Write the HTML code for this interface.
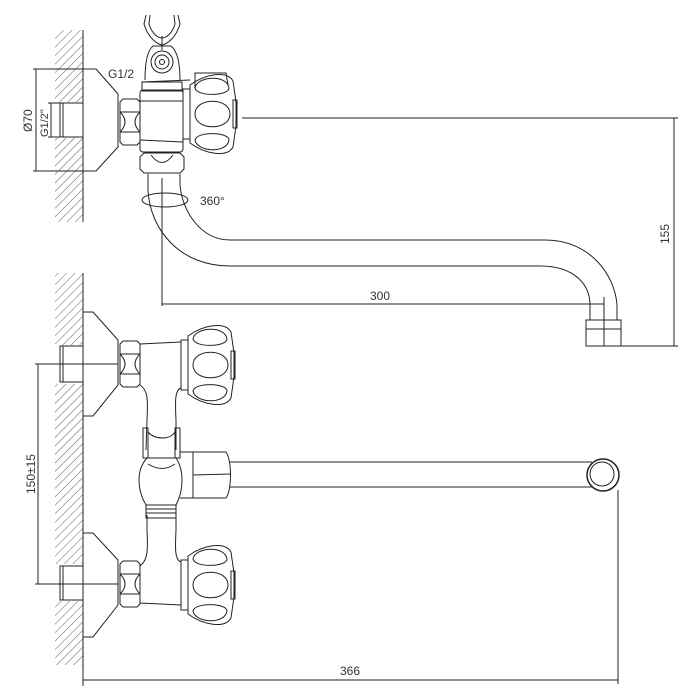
<!DOCTYPE html>
<html><head><style>html,body{margin:0;padding:0;background:#fff}svg{display:block}</style></head>
<body>
<svg width="700" height="700" viewBox="0 0 700 700" xmlns="http://www.w3.org/2000/svg" fill="none" stroke="#222" stroke-width="1">
<defs>
<pattern id="h" patternUnits="userSpaceOnUse" width="6" height="6" patternTransform="rotate(45)">
<line x1="0" y1="0" x2="0" y2="6" stroke="#333" stroke-width="0.8"/>
</pattern>
<g id="hd">
<rect x="0" y="-25" width="7" height="50"/>
<path d="M7,-29 C22,-40 44,-44 50,-33 L53,-12 L53,12 L50,33 C44,44 22,40 7,29 Z"/>
<path d="M12,-26 C14,-38 44,-40 46,-26 C46,-18 14,-17 12,-26 Z"/>
<path d="M12,0 C12,-17 47,-17 47,0 C47,17 12,17 12,0 Z"/>
<path d="M12,26 C14,38 44,40 46,26 C46,18 14,17 12,26 Z"/>
<rect x="50" y="-14" width="4" height="28"/>
</g>
<g id="nut">
<path d="M0,3 L3,0 L17,0 L20,3 L20,43 L17,46 L3,46 L0,43 Z"/>
<line x1="0" y1="13" x2="20" y2="13"/><line x1="0" y1="33" x2="20" y2="33"/>
<path d="M0,13 Q10,23 0,33"/><path d="M20,13 Q10,23 20,33"/>
</g>
</defs>

<!-- TOP VIEW -->
<rect x="55" y="30" width="28" height="72" fill="url(#h)" stroke="none"/>
<rect x="55" y="138" width="28" height="84" fill="url(#h)" stroke="none"/>
<line x1="83" y1="30" x2="83" y2="222"/>
<rect x="60" y="103" width="23" height="34"/>
<line x1="63" y1="103" x2="63" y2="137"/>
<path d="M83,69 L96,69 L118,94 L118,147 L96,171 L83,171"/>
<use href="#nut" x="120" y="99"/>
<rect x="140" y="90" width="43" height="62" rx="3"/>
<rect x="142" y="82" width="40" height="9"/>
<line x1="140" y1="101" x2="183" y2="101"/><line x1="140" y1="140" x2="183" y2="142"/>
<path d="M195,88 L195,73 L226,73 L228,85"/>
<use href="#hd" x="183" y="114"/>
<!-- holder -->
<path d="M145,80 C145,60 148,50 153,46 L171,46 C176,50 180,60 180,80"/>
<circle cx="162" cy="62" r="11"/><circle cx="162" cy="62" r="7"/><circle cx="162" cy="62" r="2.5"/>
<path d="M146,15 L144,24 C148,38 157,44 162,45 C167,44 176,38 180,24 L178,15"/>
<path d="M150,15 L149,24 C152,34 158,38 162,38 C166,38 172,34 175,24 L174,15"/>
<line x1="162" y1="36" x2="162" y2="50"/>
<!-- lower nut -->
<path d="M140,157 L144,153 L180,153 L184,157 L184,169 L180,173 L144,173 L140,169 Z"/>
<path d="M151,155 Q162,170 173,155"/>
<!-- spout -->
<path d="M148,174 L148,190 C150,230 180,266 230,266 L540,266 C575,266 590,285 590,305 L590,320"/>
<path d="M180,174 L180,185 C182,210 200,240 230,240 L545,240 C590,240 615,275 617,305 L617,320"/>
<rect x="586" y="320" width="35" height="26"/>
<line x1="586" y1="329" x2="621" y2="329"/>
<line x1="604" y1="297" x2="604" y2="346"/>
<ellipse cx="165" cy="200" rx="23" ry="7"/>
<text x="200" y="205" font-family="Liberation Sans, sans-serif" font-size="12" fill="#333" stroke="none">360°</text>
<!-- dims -->
<line x1="162" y1="178" x2="162" y2="306"/>
<line x1="162" y1="304" x2="604" y2="304"/>
<text x="370" y="300" font-family="Liberation Sans, sans-serif" font-size="12" fill="#333" stroke="none">300</text>
<line x1="242" y1="118" x2="678" y2="118"/>
<line x1="621" y1="346" x2="678" y2="346"/>
<line x1="674" y1="118" x2="674" y2="346"/>
<text transform="translate(669,244) rotate(-90)" font-family="Liberation Sans, sans-serif" font-size="12" fill="#333" stroke="none">155</text>
<line x1="33" y1="69" x2="96" y2="69"/><line x1="33" y1="171" x2="96" y2="171"/>
<line x1="36" y1="69" x2="36" y2="171"/>
<text transform="translate(32,132) rotate(-90)" font-family="Liberation Sans, sans-serif" font-size="12" fill="#333" stroke="none">Ø70</text>
<line x1="48" y1="103" x2="60" y2="103"/><line x1="48" y1="137" x2="60" y2="137"/>
<line x1="51" y1="103" x2="51" y2="137"/>
<text transform="translate(48,137) rotate(-90)" font-family="Liberation Sans, sans-serif" font-size="11" fill="#333" stroke="none">G1/2"</text>
<text x="108" y="78" font-family="Liberation Sans, sans-serif" font-size="12" fill="#333" stroke="none">G1/2</text>
<line x1="142" y1="82" x2="190" y2="80"/>

<!-- BOTTOM VIEW -->
<rect x="55" y="273" width="28" height="72" fill="url(#h)" stroke="none"/>
<rect x="55" y="384" width="28" height="180" fill="url(#h)" stroke="none"/>
<rect x="55" y="601" width="28" height="64" fill="url(#h)" stroke="none"/>
<line x1="83" y1="273" x2="83" y2="686"/>
<rect x="60" y="346" width="23" height="36"/><line x1="63" y1="346" x2="63" y2="382"/>
<rect x="60" y="566" width="23" height="34"/><line x1="63" y1="566" x2="63" y2="600"/>
<path d="M83,312 L93,312 L118,340 L118,385 L93,416 L83,416"/>
<path d="M83,533 L93,533 L118,560 L118,605 L93,637 L83,637"/>
<use href="#nut" x="120" y="341"/>
<use href="#nut" x="120" y="561"/>
<use href="#hd" x="181" y="365"/>
<use href="#hd" x="181" y="585"/>
<line x1="140" y1="344" x2="181" y2="342"/>
<line x1="140" y1="603" x2="181" y2="605"/>
<path d="M140,385 C148,390 148,400 147,420 L146,450"/>
<path d="M181,388 C175,390 175,400 176,420 L176,450"/>
<path d="M140,566 C148,560 148,550 147,530 L147,515"/>
<path d="M181,562 C175,560 175,550 176,530 L176,515"/>
<rect x="143" y="428" width="5" height="30"/><rect x="175" y="428" width="5" height="30"/>
<path d="M148,432 C155,440 170,440 175,432"/>
<path d="M147,458 C136,470 137,490 146,505 L176,505 C184,490 184,470 176,458 Z"/>
<path d="M148,464 C158,470 166,470 175,464"/>
<rect x="146" y="505" width="30" height="13"/>
<line x1="146" y1="509" x2="176" y2="509"/><line x1="146" y1="513" x2="176" y2="513"/>
<path d="M180,452 L193,452 L193,498 L180,498"/>
<path d="M193,452 L226,452 C232,460 232,490 226,498 L193,498 Z"/>
<line x1="193" y1="475" x2="230" y2="474"/>
<line x1="230" y1="462" x2="592" y2="462"/>
<line x1="230" y1="487" x2="592" y2="487"/>
<circle cx="603" cy="475" r="16" stroke-width="1.5"/>
<circle cx="602" cy="474" r="12"/>
<!-- dims bottom -->
<line x1="35" y1="364" x2="118" y2="364"/>
<line x1="35" y1="584" x2="118" y2="584"/>
<line x1="38" y1="364" x2="38" y2="584"/>
<text transform="translate(35,494) rotate(-90)" font-family="Liberation Sans, sans-serif" font-size="12" fill="#333" stroke="none">150±15</text>
<line x1="618" y1="490" x2="618" y2="684"/>
<line x1="83" y1="680" x2="618" y2="680"/>
<text x="340" y="675" font-family="Liberation Sans, sans-serif" font-size="12" fill="#333" stroke="none">366</text>
</svg>
</body></html>
